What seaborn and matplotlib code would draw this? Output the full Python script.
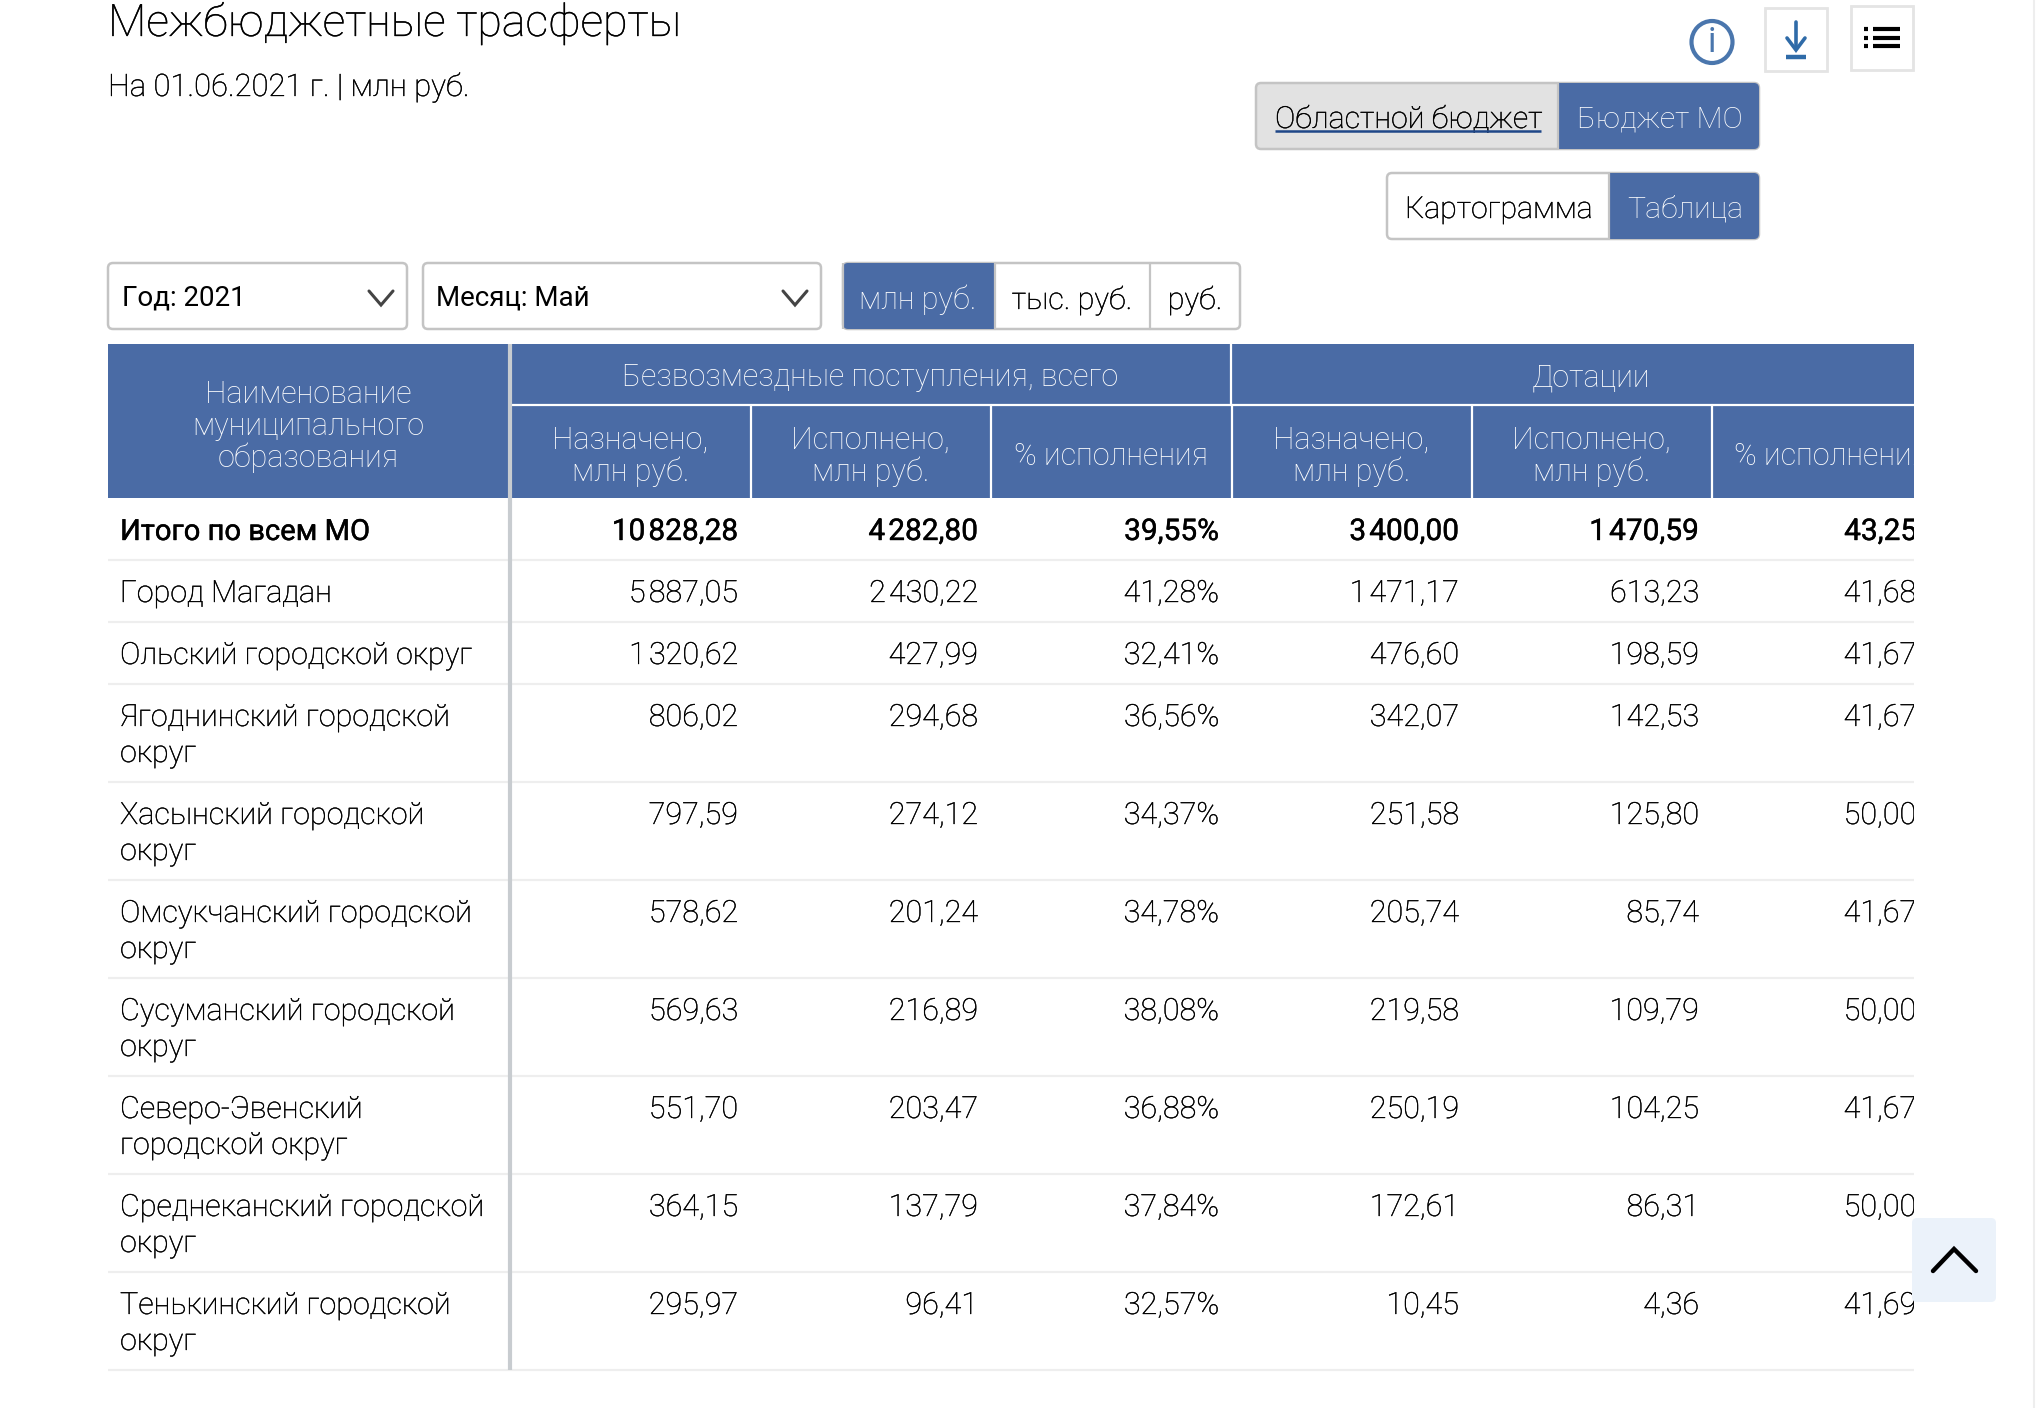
import numpy as np
import matplotlib
matplotlib.use('Agg')
import matplotlib.pyplot as plt
import matplotlib.patheffects as pe
import seaborn as sns
from matplotlib.patches import FancyBboxPatch, Rectangle, Ellipse

# data
names = ['Итого по всем МО', 'Город Магадан', 'Ольский городской округ',
         'Ягоднинский городской\nокруг', 'Хасынский городской\nокруг',
         'Омсукчанский городской\nокруг', 'Сусуманский городской\nокруг',
         'Северо-Эвенский\nгородской округ', 'Среднеканский городской\nокруг',
         'Тенькинский городской\nокруг']
total_plan = [10828.28, 5887.05, 1320.62, 806.02, 797.59, 578.62, 569.63, 551.70, 364.15, 295.97]
total_done = [4282.80, 2430.22, 427.99, 294.68, 274.12, 201.24, 216.89, 203.47, 137.79, 96.41]
total_pct = [39.55, 41.28, 32.41, 36.56, 34.37, 34.78, 38.08, 36.88, 37.84, 32.57]
dot_plan = [3400.00, 1471.17, 476.60, 342.07, 251.58, 205.74, 219.58, 250.19, 172.61, 10.45]
dot_done = [1470.59, 613.23, 198.59, 142.53, 125.80, 85.74, 109.79, 104.25, 86.31, 4.36]
dot_pct = [43.25, 41.68, 41.67, 41.67, 50.00, 41.67, 50.00, 41.67, 50.00, 41.69]
sub_headers = ['Назначено,\nмлн руб.', 'Исполнено,\nмлн руб.', '% исполнения'] * 2
group_headers = ['Безвозмездные поступления, всего', 'Дотации']

BLUE = '#4a6ba5'
GRAY = '#c4c4c4'
DARK = '#000000'
W, H = 2036, 1408

sns.set_theme(style='white')
plt.rcParams['font.family'] = ['Roboto', 'DejaVu Sans']

fig = plt.figure(figsize=(W / 100, H / 100), dpi=100, facecolor='white')


def px_axes(x0, y0, x1, y1):
    a = fig.add_axes([x0 / W, 1 - y1 / H, (x1 - x0) / W, (y1 - y0) / H])
    return a


# page layer in pixels
ax = px_axes(0, 0, W, H)
ax.set_xlim(0, W)
ax.set_ylim(H, 0)
ax.axis('off')

# header band
head = px_axes(108, 344, 1914, 498)
sns.heatmap([[0]], cmap=[BLUE], cbar=False, xticklabels=False, yticklabels=False, ax=head)

# table layer, clips the last column as in the page
tab = px_axes(108, 344, 1914, 1372)
tab.set_xlim(108, 1914)
tab.set_ylim(1372, 344)
tab.axis('off')
tab.patch.set_alpha(0)


def txt(a, x, y, s, size=22, color=DARK, weight='light', ha='left', clip=False, **kw):
    return a.text(x, y, s, fontsize=size, color=color, fontweight=weight, ha=ha, va='baseline',
                  clip_on=clip, **kw)


def num(v, pct=False):
    s = f'{v:,.2f}'.replace(',', '\u200a').replace('.', ',')
    return s + '%' if pct else s


def button(x0, y0, x1, y1, fill='white', edge=GRAY, lw=1.8, rounded=5):
    p = FancyBboxPatch((x0, y0), x1 - x0, y1 - y0, boxstyle=f'round,pad=0,rounding_size={rounded}',
                       fc=fill, ec=edge, lw=lw, zorder=2)
    ax.add_patch(p)
    return p


def button_fill(p, x0, y0, x1, y1, color):
    r = Rectangle((x0, y0), x1 - x0, y1 - y0, fc=color, ec='none', zorder=2.5)
    ax.add_patch(r)
    r.set_clip_path(p)
    ax.plot([x0, x0], [y0, y1], color=GRAY, lw=1.6, zorder=2.6, solid_capstyle='butt')


def chevron(cx, y0, y1, half, color, lw):
    ax.plot([cx - half, cx, cx + half], [y0, y1, y0], color=color, lw=lw, zorder=3,
            solid_capstyle='round', solid_joinstyle='miter')


# slightly heavier strokes for the light text, the page renders it darker
thin = [pe.withStroke(linewidth=0.25, foreground='black')]
bold = [pe.withStroke(linewidth=0.3, foreground='black')]

# title
txt(ax, 108, 36, 'Межбюджетные трасферты', size=32.2, path_effects=thin)
txt(ax, 108, 96, 'На 01.06.2021 г. | млн руб.', size=22.3, path_effects=thin)

# top right icons
ax.add_patch(Ellipse((1712, 42), 41, 42, fc='white', ec='#4a76ad', lw=3))
ax.text(1712, 43, 'i', fontsize=25, color='#4a76ad', ha='center', va='center', fontweight='regular')
ax.add_patch(Rectangle((1765, 8), 62, 63, fc='white', ec='#e4e4e4', lw=2, zorder=2))
ax.plot([1796, 1796], [22, 48], color='#2f6ba8', lw=2.6, zorder=3)
chevron(1796, 38, 50, 9, '#2f6ba8', 2.6)
ax.plot([1786, 1806], [57, 57], color='#2f6ba8', lw=3.2, zorder=3, solid_capstyle='butt')
ax.add_patch(Rectangle((1851, 6), 62, 64, fc='white', ec='#e4e4e4', lw=2, zorder=2))
for ly in (29, 38, 46):
    ax.plot([1873, 1900], [ly, ly], color='black', lw=3, zorder=3, solid_capstyle='butt')
    ax.plot([1864, 1868], [ly, ly], color='black', lw=3, zorder=3, solid_capstyle='butt')

# budget switch
p = button(1256, 83, 1759, 149, fill='#e2e2e2')
button_fill(p, 1558, 83, 1759, 149, BLUE)
txt(ax, 1275, 128, 'Областной бюджет', size=21.9, zorder=4, path_effects=thin)
ax.plot([1275, 1541], [131, 131], color='#1f4788', lw=1.8, zorder=4, solid_capstyle='butt')
txt(ax, 1577, 128, 'Бюджет МО', size=21.8, color='white', zorder=4)

# view switch
p = button(1387, 173, 1759, 239)
button_fill(p, 1609, 173, 1759, 239, BLUE)
txt(ax, 1405, 218, 'Картограмма', size=21.8, zorder=4, path_effects=thin)
txt(ax, 1627, 218, 'Таблица', size=21.8, color='white', zorder=4)

# dropdowns
button(108, 263, 407, 329)
txt(ax, 122, 305, 'Год: 2021', size=20, weight='regular', zorder=4)
chevron(381, 291, 305, 12, '#444444', 2.2)
button(423, 263, 821, 329)
txt(ax, 436, 305, 'Месяц: Май', size=20, weight='regular', zorder=4)
chevron(795, 291, 305, 12, '#444444', 2.2)

# units switch
p = button(843, 263, 1240, 329)
button_fill(p, 843, 263, 995, 329, BLUE)
ax.plot([1150, 1150], [263, 329], color=GRAY, lw=1.6, zorder=3)
ax.plot([995, 995], [263, 329], color=GRAY, lw=1.6, zorder=3)
txt(ax, 918, 309, 'млн руб.', color='white', ha='center', zorder=4)
txt(ax, 1072, 309, 'тыс. руб.', ha='center', zorder=4, path_effects=thin)
txt(ax, 1195, 309, 'руб.', ha='center', zorder=4, path_effects=thin)

# table header
col_edges = [510, 750, 990, 1231, 1471, 1711, 1951]
HEAD_TXT = 'white'
for i, line in enumerate(['Наименование', 'муниципального', 'образования']):
    txt(tab, 308, 403 + i * 32, line, color=HEAD_TXT, ha='center', clip=True)
txt(tab, (col_edges[0] + col_edges[3]) / 2, 386, group_headers[0], color=HEAD_TXT, ha='center', clip=True)
txt(tab, (col_edges[3] + col_edges[6]) / 2, 386, group_headers[1], color=HEAD_TXT, ha='center', clip=True)
tab.plot([col_edges[0], 1914], [405, 405], color='white', lw=1.6)
tab.plot([col_edges[3], col_edges[3]], [344, 405], color='white', lw=1.6)
for c, label in enumerate(sub_headers):
    mid = (col_edges[c] + col_edges[c + 1]) / 2
    if c > 0:
        tab.plot([col_edges[c] + 0.5, col_edges[c] + 0.5], [405, 498], color='white', lw=1.6)
    if '\n' in label:
        first, second = label.split('\n')
        txt(tab, mid + 0.5, 449, first, color=HEAD_TXT, ha='center', clip=True)
        txt(tab, mid + 0.5, 481, second, color=HEAD_TXT, ha='center', clip=True)
    else:
        txt(tab, mid + 0.5, 465, label, color=HEAD_TXT, ha='center', clip=True)

# table body, row height follows the number of text lines
columns = [(total_plan, False), (total_done, False), (total_pct, True),
           (dot_plan, False), (dot_done, False), (dot_pct, True)]
top = 498
for r, name in enumerate(names):
    lines = name.split('\n')
    weight = 'regular' if r == 0 else 'light'
    effects = bold if r == 0 else thin
    name_size = 21 if r == 0 else 22
    num_size = 21.5 if r == 0 else 22
    for j, line in enumerate(lines):
        txt(tab, 120, top + 42 + j * 36, line, size=name_size, weight=weight, clip=True, path_effects=effects)
    for c, (vals, is_pct) in enumerate(columns):
        txt(tab, col_edges[c + 1] - 12, top + 42, num(vals[r], is_pct), size=num_size, weight=weight,
            ha='right', clip=True, path_effects=effects)
    top += 62 if len(lines) == 1 else 98
    tab.plot([108, 1914], [top - 0.5, top - 0.5], color='#eeeeee', lw=1.6, zorder=0)

# divider between names and numbers
tab.plot([509.5, 509.5], [344, top], color='#c8ccd0', lw=3, solid_capstyle='butt', zorder=5)

# scroll to top button and page scrollbar edge
top_ax = px_axes(0, 0, W, H)
top_ax.set_xlim(0, W)
top_ax.set_ylim(H, 0)
top_ax.axis('off')
top_ax.add_patch(FancyBboxPatch((1912, 1218), 84, 84, boxstyle='round,pad=0,rounding_size=5',
                                fc='#ebf2fa', ec='none'))
top_ax.plot([1933, 1954, 1976], [1271, 1249, 1271], color='black', lw=3.2,
            solid_capstyle='round', solid_joinstyle='miter')
top_ax.plot([2034.5, 2034.5], [0, H], color='#eeeeee', lw=1.5)

fig.savefig('out.png', dpi=100)
